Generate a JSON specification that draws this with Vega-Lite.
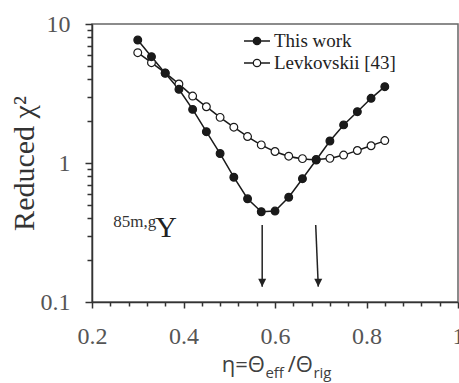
{
  "$schema": "https://vega.github.io/schema/vega-lite/v6.json",
  "width": 366,
  "height": 278,
  "autosize": {"type": "none"},
  "padding": {"left": 92, "top": 24, "right": 1, "bottom": 81},
  "background": "white",
  "config": {
    "view": {"stroke": "#666", "strokeWidth": 1.5},
    "axis": {"grid": false}
  },
  "datasets": {
    "curves": [
      {"eta": 0.30, "chi2": 6.22, "series": "Levkovskii [43]"},
      {"eta": 0.33, "chi2": 5.27, "series": "Levkovskii [43]"},
      {"eta": 0.36, "chi2": 4.45, "series": "Levkovskii [43]"},
      {"eta": 0.39, "chi2": 3.70, "series": "Levkovskii [43]"},
      {"eta": 0.42, "chi2": 3.03, "series": "Levkovskii [43]"},
      {"eta": 0.45, "chi2": 2.54, "series": "Levkovskii [43]"},
      {"eta": 0.48, "chi2": 2.13, "series": "Levkovskii [43]"},
      {"eta": 0.51, "chi2": 1.81, "series": "Levkovskii [43]"},
      {"eta": 0.54, "chi2": 1.55, "series": "Levkovskii [43]"},
      {"eta": 0.57, "chi2": 1.35, "series": "Levkovskii [43]"},
      {"eta": 0.60, "chi2": 1.21, "series": "Levkovskii [43]"},
      {"eta": 0.63, "chi2": 1.12, "series": "Levkovskii [43]"},
      {"eta": 0.66, "chi2": 1.075, "series": "Levkovskii [43]"},
      {"eta": 0.69, "chi2": 1.06, "series": "Levkovskii [43]"},
      {"eta": 0.72, "chi2": 1.08, "series": "Levkovskii [43]"},
      {"eta": 0.75, "chi2": 1.14, "series": "Levkovskii [43]"},
      {"eta": 0.78, "chi2": 1.23, "series": "Levkovskii [43]"},
      {"eta": 0.81, "chi2": 1.33, "series": "Levkovskii [43]"},
      {"eta": 0.84, "chi2": 1.45, "series": "Levkovskii [43]"},
      {"eta": 0.30, "chi2": 7.67, "series": "This work"},
      {"eta": 0.33, "chi2": 5.82, "series": "This work"},
      {"eta": 0.36, "chi2": 4.42, "series": "This work"},
      {"eta": 0.39, "chi2": 3.39, "series": "This work"},
      {"eta": 0.42, "chi2": 2.43, "series": "This work"},
      {"eta": 0.45, "chi2": 1.68, "series": "This work"},
      {"eta": 0.48, "chi2": 1.17, "series": "This work"},
      {"eta": 0.51, "chi2": 0.79, "series": "This work"},
      {"eta": 0.54, "chi2": 0.553, "series": "This work"},
      {"eta": 0.57, "chi2": 0.446, "series": "This work"},
      {"eta": 0.60, "chi2": 0.451, "series": "This work"},
      {"eta": 0.63, "chi2": 0.567, "series": "This work"},
      {"eta": 0.66, "chi2": 0.771, "series": "This work"},
      {"eta": 0.69, "chi2": 1.05, "series": "This work"},
      {"eta": 0.72, "chi2": 1.44, "series": "This work"},
      {"eta": 0.75, "chi2": 1.88, "series": "This work"},
      {"eta": 0.78, "chi2": 2.34, "series": "This work"},
      {"eta": 0.81, "chi2": 2.92, "series": "This work"},
      {"eta": 0.84, "chi2": 3.54, "series": "This work"}
    ],
    "arrows": [
      {"eta": 0.572, "eta2": 0.572, "chi2": 0.358, "chi2b": 0.129},
      {"eta": 0.689, "eta2": 0.6946, "chi2": 0.358, "chi2b": 0.129}
    ],
    "xtitleMain": [
      {"label": "η=Θ", "eta": 0.578, "chi2": 0.03135},
      {"label": "/Θ", "eta": 0.683, "chi2": 0.03135}
    ],
    "xtitleSub": [
      {"label": "eff", "eta": 0.579, "chi2": 0.02838},
      {"label": "rig", "eta": 0.684, "chi2": 0.02838}
    ],
    "nuclideSup": [{"label": "85m,g", "eta": 0.2466, "chi2": 0.348}],
    "nuclideMain": [{"label": "Y", "eta": 0.3380, "chi2": 0.292}]
  },
  "resolve": {"axis": {"x": "independent", "y": "independent"}},
  "layer": [
    {
      "data": {"name": "curves"},
      "transform": [{"filter": "datum.series === 'Levkovskii [43]'"}],
      "mark": {"type": "line", "interpolate": "monotone", "color": "#1a1a1a", "strokeWidth": 1.5},
      "encoding": {
        "x": {
          "field": "eta", "type": "quantitative",
          "scale": {"domain": [0.2, 1], "nice": false, "zero": false},
          "axis": {
            "orient": "bottom", "values": [0.2, 0.4, 0.6, 0.8, 1], "format": "~g", "title": null,
            "labelFont": "Times New Roman", "labelFontSize": 24, "labelColor": "#555",
            "tickSize": 6, "tickColor": "#333", "tickWidth": 1.5,
            "domainColor": "#333", "domainWidth": 1.5, "labelPadding": 16,
            "labelFlush": false, "labelOverlap": false, "grid": false
          }
        },
        "y": {
          "field": "chi2", "type": "quantitative",
          "scale": {"type": "log", "domain": [0.1, 10], "nice": false},
          "axis": {
            "orient": "left", "values": [0.1, 1, 10], "format": "~g",
            "title": "Reduced χ²", "titleFont": "Times New Roman", "titleFontSize": 30,
            "titleFontWeight": "normal", "titleColor": "#333", "titlePadding": 1,
            "labelFont": "Times New Roman", "labelFontSize": 24, "labelColor": "#555",
            "tickSize": 7, "tickColor": "#333", "tickWidth": 1.5,
            "domainColor": "#333", "domainWidth": 1.5, "labelPadding": 15,
            "labelOverlap": false, "grid": false
          }
        }
      }
    },
    {
      "data": {"name": "curves"},
      "transform": [{"filter": "datum.series === 'This work'"}],
      "mark": {"type": "line", "color": "#1a1a1a", "strokeWidth": 1.5},
      "encoding": {
        "x": {
          "field": "eta", "type": "quantitative",
          "scale": {"domain": [0.2, 1], "nice": false, "zero": false},
          "axis": {
            "orient": "bottom",
            "values": [0.24, 0.28, 0.32, 0.36, 0.44, 0.48, 0.52, 0.56, 0.64, 0.68, 0.72, 0.76, 0.84, 0.88, 0.92, 0.96],
            "labels": false, "domain": false, "title": null, "grid": false,
            "tickSize": 4, "tickColor": "#333", "tickWidth": 1.5
          }
        },
        "y": {
          "field": "chi2", "type": "quantitative",
          "scale": {"type": "log", "domain": [0.1, 10], "nice": false},
          "axis": {
            "orient": "left",
            "values": [0.2, 0.3, 0.4, 0.5, 0.6, 0.7, 0.8, 0.9, 2, 3, 4, 5, 6, 7, 8, 9],
            "labels": false, "domain": false, "title": null, "grid": false,
            "tickSize": 5, "tickColor": "#333", "tickWidth": 1.5
          }
        }
      }
    },
    {
      "data": {"name": "curves"},
      "mark": {"type": "circle", "size": 60, "stroke": "#1a1a1a", "strokeWidth": 1.2, "opacity": 1},
      "encoding": {
        "x": {"field": "eta", "type": "quantitative", "scale": {"domain": [0.2, 1], "nice": false, "zero": false}, "axis": null},
        "y": {"field": "chi2", "type": "quantitative", "scale": {"type": "log", "domain": [0.1, 10], "nice": false}, "axis": null},
        "fill": {
          "field": "series", "type": "nominal",
          "scale": {"domain": ["This work", "Levkovskii [43]"], "range": ["#1a1a1a", "white"]},
          "legend": {
            "title": null, "orient": "none", "legendX": 154, "legendY": 6, "padding": 0,
            "symbolType": "M-1.3,0L-0.37,0M0.37,0L1.3,0M-0.37,0A0.37,0.37,0,1,1,0.37,0A0.37,0.37,0,1,1,-0.37,0Z",
            "symbolSize": 400, "symbolStrokeColor": "#1a1a1a", "symbolStrokeWidth": 1.3, "symbolOpacity": 1,
            "labelFont": "Times New Roman", "labelFontSize": 19, "labelColor": "#222",
            "labelOffset": 6, "labelLimit": 300, "rowPadding": 1
          }
        }
      }
    },
    {
      "data": {"name": "arrows"},
      "mark": {"type": "rule", "color": "#222", "strokeWidth": 1.5},
      "encoding": {
        "x": {"field": "eta", "type": "quantitative", "scale": {"domain": [0.2, 1], "nice": false, "zero": false}, "axis": null},
        "x2": {"field": "eta2"},
        "y": {"field": "chi2", "type": "quantitative", "scale": {"type": "log", "domain": [0.1, 10], "nice": false}, "axis": null},
        "y2": {"field": "chi2b"}
      }
    },
    {
      "data": {"name": "arrows"},
      "mark": {"type": "point", "shape": "M0,0L-0.5,-1L0.5,-1Z", "size": 256, "filled": true, "color": "#222", "opacity": 1},
      "encoding": {
        "x": {"field": "eta2", "type": "quantitative", "scale": {"domain": [0.2, 1], "nice": false, "zero": false}, "axis": null},
        "y": {"field": "chi2b", "type": "quantitative", "scale": {"type": "log", "domain": [0.1, 10], "nice": false}, "axis": null}
      }
    },
    {
      "data": {"name": "xtitleMain"},
      "mark": {"type": "text", "align": "right", "baseline": "alphabetic", "font": "Open Sans", "fontSize": 22, "color": "#404040"},
      "encoding": {
        "x": {"field": "eta", "type": "quantitative", "scale": {"domain": [0.2, 1], "nice": false, "zero": false}, "axis": null},
        "y": {"field": "chi2", "type": "quantitative", "scale": {"type": "log", "domain": [0.1, 10], "nice": false}, "axis": null},
        "text": {"field": "label"}
      }
    },
    {
      "data": {"name": "xtitleSub"},
      "mark": {"type": "text", "align": "left", "baseline": "alphabetic", "font": "Open Sans", "fontSize": 15, "color": "#404040"},
      "encoding": {
        "x": {"field": "eta", "type": "quantitative", "scale": {"domain": [0.2, 1], "nice": false, "zero": false}, "axis": null},
        "y": {"field": "chi2", "type": "quantitative", "scale": {"type": "log", "domain": [0.1, 10], "nice": false}, "axis": null},
        "text": {"field": "label"}
      }
    },
    {
      "data": {"name": "nuclideSup"},
      "mark": {"type": "text", "align": "left", "baseline": "alphabetic", "font": "Times New Roman", "fontSize": 17, "color": "#333"},
      "encoding": {
        "x": {"field": "eta", "type": "quantitative", "scale": {"domain": [0.2, 1], "nice": false, "zero": false}, "axis": null},
        "y": {"field": "chi2", "type": "quantitative", "scale": {"type": "log", "domain": [0.1, 10], "nice": false}, "axis": null},
        "text": {"field": "label"}
      }
    },
    {
      "data": {"name": "nuclideMain"},
      "mark": {"type": "text", "align": "left", "baseline": "alphabetic", "font": "Times New Roman", "fontSize": 30, "color": "#222"},
      "encoding": {
        "x": {"field": "eta", "type": "quantitative", "scale": {"domain": [0.2, 1], "nice": false, "zero": false}, "axis": null},
        "y": {"field": "chi2", "type": "quantitative", "scale": {"type": "log", "domain": [0.1, 10], "nice": false}, "axis": null},
        "text": {"field": "label"}
      }
    }
  ]
}
